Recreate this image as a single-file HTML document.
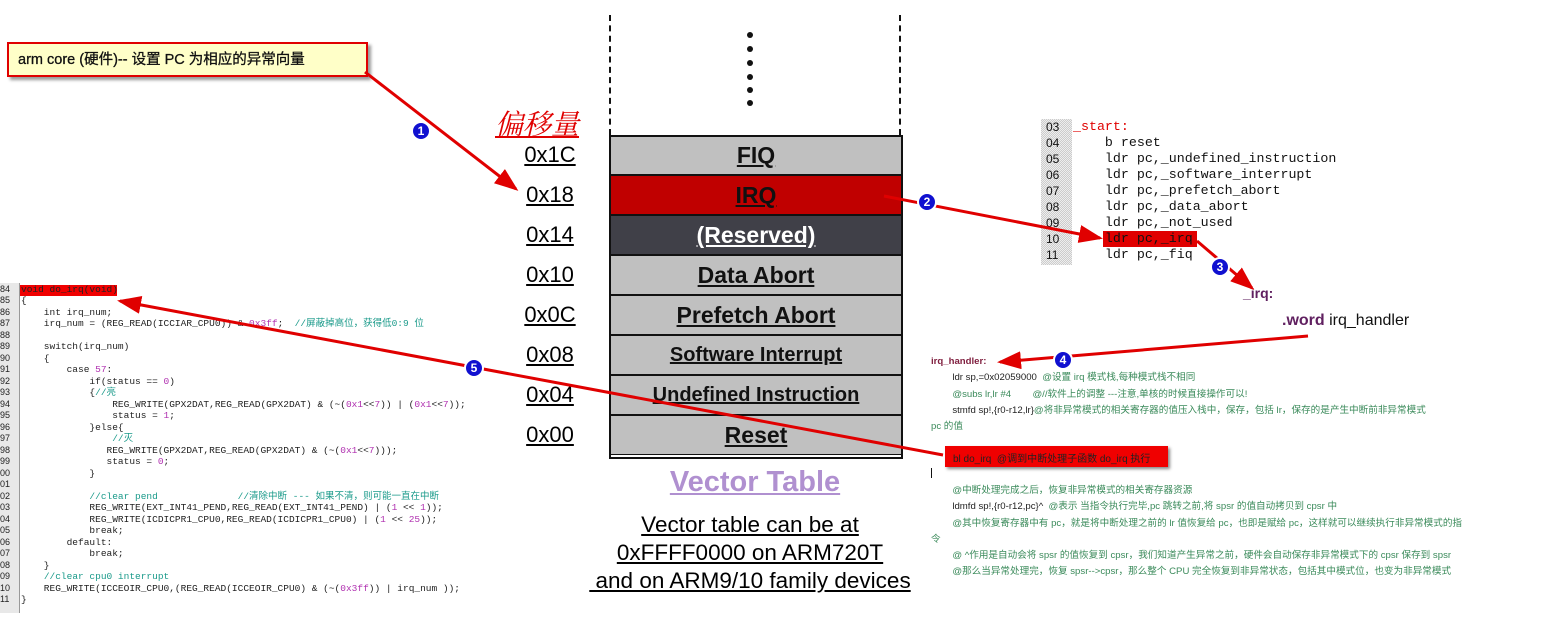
<!DOCTYPE html>
<html><head><meta charset="utf-8">
<style>
body{margin:0;width:1563px;height:619px;background:#fff;position:relative;overflow:hidden;font-family:"Liberation Sans","Noto Sans CJK SC",sans-serif}
.a{position:absolute;white-space:nowrap}
.row{position:absolute;left:610px;width:290px;height:38px;background:#c0c0c0;border:1px solid #111;text-align:center;font-weight:bold;font-size:23px;line-height:38px;color:#111}
.row span{text-decoration:underline}
.off{position:absolute;left:515px;width:70px;text-align:center;font-size:22px;text-decoration:underline}
.lc{font-family:"Liberation Mono","Noto Sans CJK SC",monospace;font-size:9.5px;color:#222}
.ln{position:absolute;left:0;width:18px;font-family:"Liberation Sans",sans-serif;font-size:9px;color:#222}
.cm{color:#1a9a8a}.nm{color:#b030b0}
.rc{font-family:"Liberation Mono","Noto Sans CJK SC",monospace;font-size:13.3px;color:#111}
.hc{font-family:"Liberation Sans","Noto Sans CJK SC",sans-serif;font-size:9.6px;color:#222}
.g{color:#3a8a5a}
</style></head><body>
<!-- callout -->
<div class="a" style="left:7px;top:42px;width:357px;height:31px;background:#ffffc8;border:2px solid #e00000;box-shadow:3px 3px 3px #999"></div>
<div class="a" style="left:18px;top:48px;font-size:14.5px;color:#111;-webkit-text-stroke:0.3px #111">arm core (硬件)-- 设置 PC 为相应的异常向量</div>

<!-- vector table frame -->
<div class="a" style="left:609px;top:15px;height:120px;border-left:2px dashed #111"></div>
<div class="a" style="left:899px;top:15px;height:120px;border-left:2px dashed #111"></div>
<svg class="a" style="left:740px;top:30px" width="20" height="80"><g fill="#111"><circle cx="10" cy="5" r="3"/><circle cx="10" cy="19" r="3"/><circle cx="10" cy="33" r="3"/><circle cx="10" cy="47" r="3"/><circle cx="10" cy="60" r="3"/><circle cx="10" cy="73" r="3"/></g></svg>
<div class="a" style="left:495px;top:103px;font-size:28px;font-style:italic;color:#e00000;text-decoration:underline;font-family:'Liberation Serif','Noto Serif CJK SC',serif">偏移量</div>

<div class="row" style="top:135px"><span>FIQ</span></div>
<div class="row" style="top:175px;background:#c00000"><span>IRQ</span></div>
<div class="row" style="top:215px;background:#404048;color:#fff"><span>(Reserved)</span></div>
<div class="row" style="top:255px"><span>Data Abort</span></div>
<div class="row" style="top:295px"><span>Prefetch Abort</span></div>
<div class="row" style="top:335px;font-size:20px"><span>Software Interrupt</span></div>
<div class="row" style="top:375px;font-size:20px"><span>Undefined Instruction</span></div>
<div class="row" style="top:415px"><span>Reset</span></div>
<div class="a" style="left:609px;top:135px;width:290px;height:320px;border:2px solid #111"></div>

<div class="off" style="top:142px">0x1C</div>
<div class="off" style="top:182px">0x18</div>
<div class="off" style="top:222px">0x14</div>
<div class="off" style="top:262px">0x10</div>
<div class="off" style="top:302px">0x0C</div>
<div class="off" style="top:342px">0x08</div>
<div class="off" style="top:382px">0x04</div>
<div class="off" style="top:422px">0x00</div>

<div class="a" style="left:610px;top:466px;width:290px;text-align:center;font-size:29px;font-weight:bold;color:#b090d0;text-decoration:underline">Vector Table</div>
<div class="a" style="left:560px;top:511px;width:380px;text-align:center;font-size:22.5px;line-height:28px;text-decoration:underline">Vector table can be at<br>0xFFFF0000 on ARM720T<br>&nbsp;and on ARM9/10 family devices</div>

<!-- top right code -->
<div class="a" style="left:1041px;top:119px;width:31px;height:146px;background:repeating-conic-gradient(#ccc 0 25%,#eee 0 50%) 0 0/2px 2px"></div>
<div class="a rc" style="left:1046px;top:119px;line-height:16px;font-family:'Liberation Sans',sans-serif;font-size:12px">03<br>04<br>05<br>06<br>07<br>08<br>09<br>10<br>11</div>
<div class="a" style="left:1103px;top:231px;width:94px;height:16px;background:#e00000"></div>
<div class="a rc" style="left:1073px;top:119px;line-height:16px"><span style="color:#e00000">_start:</span><br>&nbsp;&nbsp;&nbsp;&nbsp;b reset<br>&nbsp;&nbsp;&nbsp;&nbsp;ldr pc,_undefined_instruction<br>&nbsp;&nbsp;&nbsp;&nbsp;ldr pc,_software_interrupt<br>&nbsp;&nbsp;&nbsp;&nbsp;ldr pc,_prefetch_abort<br>&nbsp;&nbsp;&nbsp;&nbsp;ldr pc,_data_abort<br>&nbsp;&nbsp;&nbsp;&nbsp;ldr pc,_not_used<br>&nbsp;&nbsp;&nbsp;&nbsp;ldr pc,_irq<br>&nbsp;&nbsp;&nbsp;&nbsp;ldr pc,_fiq</div>
<div class="a" style="left:1243px;top:285px;font-size:14px;font-weight:bold;color:#602060">_irq:</div>
<div class="a" style="left:1282px;top:312px;font-size:16px;color:#111"><b style="color:#602060">.word</b> irq_handler</div>

<!-- bottom right handler -->
<div class="a hc" style="left:931px;top:354px;line-height:16.3px"><b style="color:#802040">irq_handler:</b><br>
&nbsp;&nbsp;&nbsp;&nbsp;&nbsp;&nbsp;&nbsp;&nbsp;ldr sp,=0x02059000 <span class="g">&nbsp;@设置 irq 模式栈,每种模式栈不相同</span><br>
<span class="g">&nbsp;&nbsp;&nbsp;&nbsp;&nbsp;&nbsp;&nbsp;&nbsp;@subs lr,lr #4 &nbsp;&nbsp;&nbsp;&nbsp;&nbsp;&nbsp;&nbsp;@//软件上的调整 ---注意,单核的时候直接操作可以!</span><br>
&nbsp;&nbsp;&nbsp;&nbsp;&nbsp;&nbsp;&nbsp;&nbsp;stmfd sp!,{r0-r12,lr}<span class="g">@将非异常模式的相关寄存器的值压入栈中，保存，包括 lr，保存的是产生中断前非异常模式</span><br>
<span class="g">pc 的值</span></div>
<div class="a" style="left:945px;top:446px;width:223px;height:21px;background:#f00000;box-shadow:2px 2px 3px #888"></div>
<div class="a hc" style="left:953px;top:450px;color:#222;font-size:10px">bl do_irq &nbsp;@调到中断处理子函数 do_irq 执行</div>
<div class="a" style="left:931px;top:468px;width:1px;height:10px;background:#111"></div>
<div class="a hc" style="left:931px;top:483px;line-height:16.3px">
<span class="g">&nbsp;&nbsp;&nbsp;&nbsp;&nbsp;&nbsp;&nbsp;&nbsp;@中断处理完成之后，恢复非异常模式的相关寄存器资源</span><br>
&nbsp;&nbsp;&nbsp;&nbsp;&nbsp;&nbsp;&nbsp;&nbsp;ldmfd sp!,{r0-r12,pc}^ &nbsp;<span class="g">@表示 当指令执行完毕,pc 跳转之前,将 spsr 的值自动拷贝到 cpsr 中</span><br>
<span class="g">&nbsp;&nbsp;&nbsp;&nbsp;&nbsp;&nbsp;&nbsp;&nbsp;@其中恢复寄存器中有 pc，就是将中断处理之前的 lr 值恢复给 pc，也即是赋给 pc，这样就可以继续执行非异常模式的指</span><br>
<span class="g">令</span><br>
<span class="g">&nbsp;&nbsp;&nbsp;&nbsp;&nbsp;&nbsp;&nbsp;&nbsp;@ ^作用是自动会将 spsr 的值恢复到 cpsr，我们知道产生异常之前，硬件会自动保存非异常模式下的 cpsr 保存到 spsr</span><br>
<span class="g">&nbsp;&nbsp;&nbsp;&nbsp;&nbsp;&nbsp;&nbsp;&nbsp;@那么当异常处理完，恢复 spsr-->cpsr，那么整个 CPU 完全恢复到非异常状态，包括其中模式位，也变为非异常模式</span></div>

<!-- left code -->
<div class="a" style="left:0;top:283px;width:19px;height:330px;background:#e8e8e8"></div>
<div class="a" style="left:19px;top:283px;width:1px;height:330px;background:#999"></div>
<div class="a" style="left:20px;top:285px;width:97px;height:11px;background:#f00000"></div>
<div class="a ln" style="top:284px;line-height:11.48px">84<br>85<br>86<br>87<br>88<br>89<br>90<br>91<br>92<br>93<br>94<br>95<br>96<br>97<br>98<br>99<br>00<br>01<br>02<br>03<br>04<br>05<br>06<br>07<br>08<br>09<br>10<br>11</div>
<div class="a lc" style="left:21px;top:284px;line-height:11.48px">void do_irq(void)<br>{<br>
&nbsp;&nbsp;&nbsp;&nbsp;int irq_num;<br>
&nbsp;&nbsp;&nbsp;&nbsp;irq_num = (REG_READ(ICCIAR_CPU0)) &amp; <span class="nm">0x3ff</span>; &nbsp;<span class="cm">//屏蔽掉高位，获得低0:9 位</span><br><br>
&nbsp;&nbsp;&nbsp;&nbsp;switch(irq_num)<br>
&nbsp;&nbsp;&nbsp;&nbsp;{<br>
&nbsp;&nbsp;&nbsp;&nbsp;&nbsp;&nbsp;&nbsp;&nbsp;case <span class="nm">57</span>:<br>
&nbsp;&nbsp;&nbsp;&nbsp;&nbsp;&nbsp;&nbsp;&nbsp;&nbsp;&nbsp;&nbsp;&nbsp;if(status == <span class="nm">0</span>)<br>
&nbsp;&nbsp;&nbsp;&nbsp;&nbsp;&nbsp;&nbsp;&nbsp;&nbsp;&nbsp;&nbsp;&nbsp;{<span class="cm">//亮</span><br>
&nbsp;&nbsp;&nbsp;&nbsp;&nbsp;&nbsp;&nbsp;&nbsp;&nbsp;&nbsp;&nbsp;&nbsp;&nbsp;&nbsp;&nbsp;&nbsp;REG_WRITE(GPX2DAT,REG_READ(GPX2DAT) &amp; (~(<span class="nm">0x1</span>&lt;&lt;<span class="nm">7</span>)) | (<span class="nm">0x1</span>&lt;&lt;<span class="nm">7</span>));<br>
&nbsp;&nbsp;&nbsp;&nbsp;&nbsp;&nbsp;&nbsp;&nbsp;&nbsp;&nbsp;&nbsp;&nbsp;&nbsp;&nbsp;&nbsp;&nbsp;status = <span class="nm">1</span>;<br>
&nbsp;&nbsp;&nbsp;&nbsp;&nbsp;&nbsp;&nbsp;&nbsp;&nbsp;&nbsp;&nbsp;&nbsp;}else{<br>
&nbsp;&nbsp;&nbsp;&nbsp;&nbsp;&nbsp;&nbsp;&nbsp;&nbsp;&nbsp;&nbsp;&nbsp;&nbsp;&nbsp;&nbsp;&nbsp;<span class="cm">//灭</span><br>
&nbsp;&nbsp;&nbsp;&nbsp;&nbsp;&nbsp;&nbsp;&nbsp;&nbsp;&nbsp;&nbsp;&nbsp;&nbsp;&nbsp;&nbsp;REG_WRITE(GPX2DAT,REG_READ(GPX2DAT) &amp; (~(<span class="nm">0x1</span>&lt;&lt;<span class="nm">7</span>)));<br>
&nbsp;&nbsp;&nbsp;&nbsp;&nbsp;&nbsp;&nbsp;&nbsp;&nbsp;&nbsp;&nbsp;&nbsp;&nbsp;&nbsp;&nbsp;status = <span class="nm">0</span>;<br>
&nbsp;&nbsp;&nbsp;&nbsp;&nbsp;&nbsp;&nbsp;&nbsp;&nbsp;&nbsp;&nbsp;&nbsp;}<br><br>
&nbsp;&nbsp;&nbsp;&nbsp;&nbsp;&nbsp;&nbsp;&nbsp;&nbsp;&nbsp;&nbsp;&nbsp;<span class="cm">//clear pend &nbsp;&nbsp;&nbsp;&nbsp;&nbsp;&nbsp;&nbsp;&nbsp;&nbsp;&nbsp;&nbsp;&nbsp;&nbsp;//清除中断 --- 如果不清，则可能一直在中断</span><br>
&nbsp;&nbsp;&nbsp;&nbsp;&nbsp;&nbsp;&nbsp;&nbsp;&nbsp;&nbsp;&nbsp;&nbsp;REG_WRITE(EXT_INT41_PEND,REG_READ(EXT_INT41_PEND) | (<span class="nm">1</span> &lt;&lt; <span class="nm">1</span>));<br>
&nbsp;&nbsp;&nbsp;&nbsp;&nbsp;&nbsp;&nbsp;&nbsp;&nbsp;&nbsp;&nbsp;&nbsp;REG_WRITE(ICDICPR1_CPU0,REG_READ(ICDICPR1_CPU0) | (<span class="nm">1</span> &lt;&lt; <span class="nm">25</span>));<br>
&nbsp;&nbsp;&nbsp;&nbsp;&nbsp;&nbsp;&nbsp;&nbsp;&nbsp;&nbsp;&nbsp;&nbsp;break;<br>
&nbsp;&nbsp;&nbsp;&nbsp;&nbsp;&nbsp;&nbsp;&nbsp;default:<br>
&nbsp;&nbsp;&nbsp;&nbsp;&nbsp;&nbsp;&nbsp;&nbsp;&nbsp;&nbsp;&nbsp;&nbsp;break;<br>
&nbsp;&nbsp;&nbsp;&nbsp;}<br>
&nbsp;&nbsp;&nbsp;&nbsp;<span class="cm">//clear cpu0 interrupt</span><br>
&nbsp;&nbsp;&nbsp;&nbsp;REG_WRITE(ICCEOIR_CPU0,(REG_READ(ICCEOIR_CPU0) &amp; (~(<span class="nm">0x3ff</span>)) | irq_num ));<br>}</div>

<!-- arrows -->
<svg class="a" style="left:0;top:0" width="1563" height="619">
<defs><marker id="ah" markerWidth="8" markerHeight="6" refX="7" refY="3" orient="auto" markerUnits="strokeWidth"><path d="M0,0 L8,3 L0,6 Z" fill="#e00000"/></marker></defs>
<g stroke="#e00000" stroke-width="3" fill="none" marker-end="url(#ah)">
<line x1="365" y1="72" x2="516" y2="189"/>
<line x1="884" y1="196" x2="1100" y2="238"/>
<line x1="1197" y1="241" x2="1252" y2="288"/>
<line x1="1308" y1="336" x2="1000" y2="362"/>
<line x1="943" y1="455" x2="120" y2="301"/>
</g>
<g font-family="Liberation Sans" font-weight="bold" font-size="12" fill="#fff" text-anchor="middle">
<circle cx="421" cy="131" r="9" fill="#1010d0" stroke="#fff" stroke-width="2"/><text x="421" y="135">1</text>
<circle cx="927" cy="202" r="9" fill="#1010d0" stroke="#fff" stroke-width="2"/><text x="927" y="206">2</text>
<circle cx="1220" cy="267" r="9" fill="#1010d0" stroke="#fff" stroke-width="2"/><text x="1220" y="271">3</text>
<circle cx="1063" cy="360" r="9" fill="#1010d0" stroke="#fff" stroke-width="2"/><text x="1063" y="364">4</text>
<circle cx="474" cy="368" r="9" fill="#1010d0" stroke="#fff" stroke-width="2"/><text x="474" y="372">5</text>
</g>
</svg>
</body></html>
